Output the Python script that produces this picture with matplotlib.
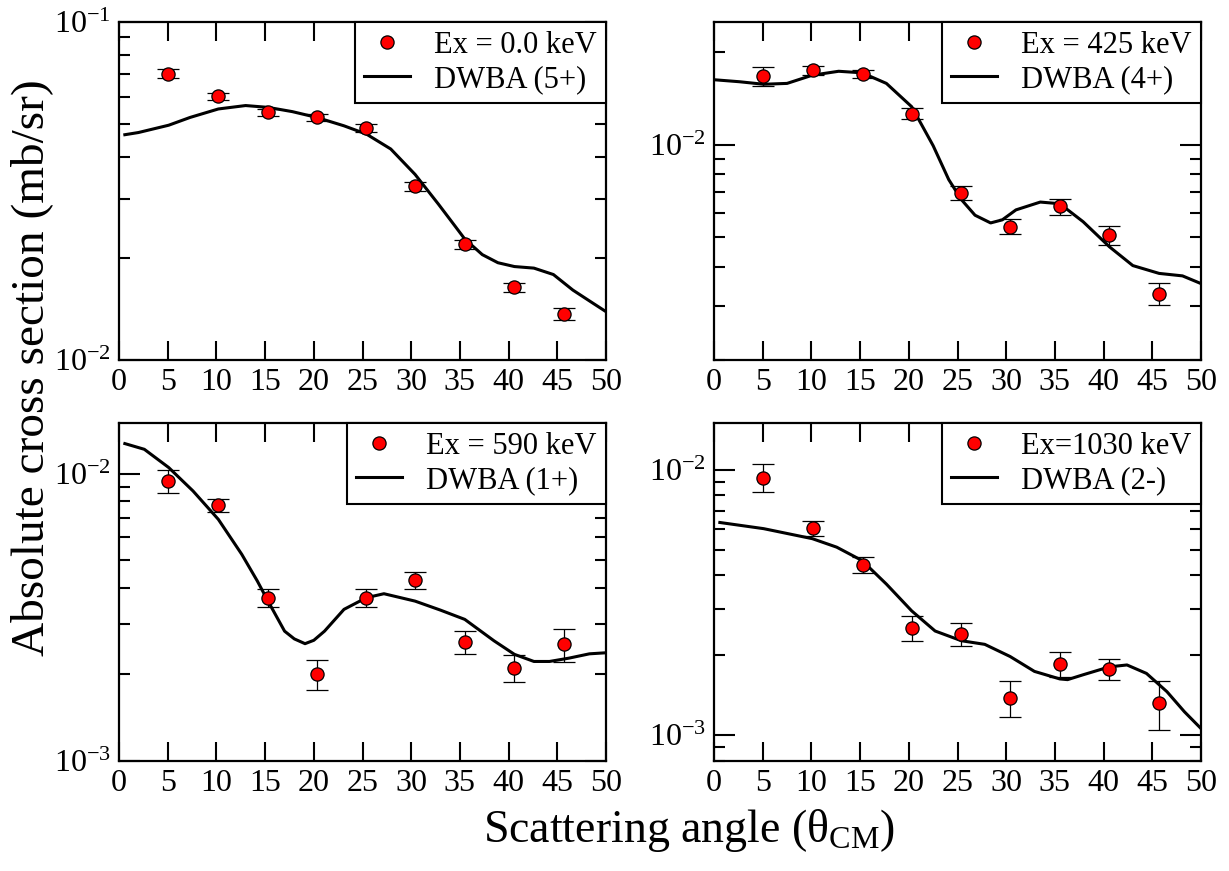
import numpy as np
import matplotlib
matplotlib.use('Agg')
import matplotlib.pyplot as plt
from matplotlib.ticker import LogLocator, FixedLocator, NullFormatter

plt.rcParams['font.family'] = ['Liberation Serif', 'DejaVu Serif']
plt.rcParams['mathtext.fontset'] = 'custom'
plt.rcParams['mathtext.rm'] = 'Liberation Serif'
plt.rcParams['mathtext.it'] = 'Liberation Serif:italic'

# measured angles (deg, CM)
angles = [5.07, 10.15, 15.25, 20.3, 25.4, 30.4, 35.5, 40.6, 45.7]

# Ex = 0.0 keV, DWBA (5+)
xs0 = [0.0703, 0.0602, 0.0540, 0.0522, 0.0486, 0.0327, 0.0220, 0.0164, 0.0137]
er0 = [0.03, 0.025, 0.025, 0.025, 0.03, 0.03, 0.03, 0.03, 0.04]
th0 = [0.6, 2.0, 5.1, 7.3, 10.2, 13.0, 15.3, 17.8, 20.3, 23.1, 25.4, 27.9, 30.4,
       32.8, 34.5, 35.5, 37.3, 38.9, 40.6, 42.6, 44.6, 46.6, 48.7, 50.0]
dw0 = [0.0464, 0.0471, 0.0495, 0.0522, 0.0553, 0.0566, 0.0559, 0.0543, 0.0522,
       0.0493, 0.0466, 0.0421, 0.0354, 0.0289, 0.0249, 0.0228, 0.0205, 0.0194,
       0.0189, 0.0187, 0.0179, 0.0161, 0.0147, 0.0139]

# Ex = 425 keV, DWBA (4+)
xs1 = [0.01665, 0.01742, 0.0170, 0.0126, 0.00697, 0.00542, 0.0063, 0.00508, 0.00328]
er1 = [0.07, 0.035, 0.03, 0.04, 0.05, 0.055, 0.06, 0.07, 0.08]
th1 = [0.0, 2.6, 5.1, 7.5, 10.1, 12.8, 15.2, 17.7, 20.3, 22.5, 24.1, 25.4, 26.8,
       28.4, 29.6, 31.0, 33.5, 35.5, 37.9, 40.6, 43.0, 45.7, 48.1, 50.0]
dw1 = [0.01624, 0.0160, 0.0157, 0.0158, 0.0168, 0.0173, 0.0171, 0.0158, 0.01327,
       0.00992, 0.0077, 0.00663, 0.00590, 0.00557, 0.00570, 0.00614, 0.00651,
       0.00643, 0.00562, 0.00466, 0.00405, 0.00382, 0.00375, 0.00354]

# Ex = 590 keV, DWBA (1+)
xs2 = [0.00943, 0.00776, 0.0037, 0.00201, 0.0037, 0.00425, 0.0026, 0.00211, 0.00255]
er2 = [0.09, 0.05, 0.075, 0.12, 0.075, 0.07, 0.09, 0.11, 0.13]
th2 = [0.6, 2.6, 5.1, 7.6, 10.2, 12.6, 14.2, 15.3, 17.0, 18.0, 19.1, 20.0, 21.1,
       23.1, 25.4, 27.2, 30.4, 33.0, 35.5, 38.5, 40.6, 42.6, 44.2, 46.2, 48.3, 50.0]
dw2 = [0.01272, 0.01215, 0.0105, 0.0087, 0.00693, 0.00524, 0.00423, 0.0036,
       0.00283, 0.00266, 0.00256, 0.00263, 0.00283, 0.00337, 0.0037, 0.00382,
       0.0036, 0.00335, 0.00311, 0.00262, 0.00235, 0.00222, 0.00222, 0.00228,
       0.00236, 0.00238]

# Ex = 1030 keV, DWBA (2-)
xs3 = [0.00935, 0.00604, 0.00438, 0.00254, 0.00241, 0.001386, 0.00186, 0.00178, 0.001327]
er3 = [0.12, 0.065, 0.07, 0.11, 0.10, 0.155, 0.105, 0.09, 0.21]
th3 = [0.6, 5.1, 10.1, 12.6, 15.2, 17.7, 20.3, 22.7, 25.4, 27.8, 30.4, 32.9,
       35.5, 36.3, 37.9, 40.6, 42.4, 44.4, 46.5, 48.3, 50.0]
dw3 = [0.00633, 0.0060, 0.0055, 0.00511, 0.00455, 0.00371, 0.00294, 0.00247,
       0.00227, 0.0022, 0.00198, 0.00174, 0.00163, 0.00162, 0.00169, 0.00181,
       0.00184, 0.00171, 0.00146, 0.001226, 0.00106]

panels = [
    (xs0, er0, th0, dw0, 'Ex = 0.0 keV', 'DWBA (5+)', (0.01, 0.1)),
    (xs1, er1, th1, dw1, 'Ex = 425 keV', 'DWBA (4+)', (0.002, 0.025)),
    (xs2, er2, th2, dw2, 'Ex = 590 keV', 'DWBA (1+)', (0.001, 0.015)),
    (xs3, er3, th3, dw3, 'Ex=1030 keV', 'DWBA (2-)', (0.0008, 0.015)),
]

fig = plt.figure(figsize=(12.29, 8.71), dpi=100)
W, H = 1229.0, 871.0
boxes = [(119, 22), (714, 22), (119, 423), (714, 423)]
pw, ph = 487, 338

for (xs, er, th, dw, lab, dlab, ylim), (l, t) in zip(panels, boxes):
    ax = fig.add_axes([l / W, 1 - (t + ph) / H, pw / W, ph / H])
    xs = np.array(xs)
    yerr = xs * np.array(er)
    ax.errorbar(angles, xs, yerr=yerr, fmt='none', ecolor='black',
                elinewidth=0.9, capsize=8, capthick=0.9, zorder=2)
    ax.plot(th, dw, color='black', lw=2.2, zorder=3, label=dlab)
    ax.plot(angles, xs, 'o', ms=9.5, mfc='red', mec='black', mew=0.9,
            zorder=4, label=lab)
    ax.set_yscale('log')
    ax.set_xlim(0, 50)
    ax.set_ylim(*ylim)
    ax.xaxis.set_major_locator(FixedLocator(np.arange(0, 51, 5)))
    ax.yaxis.set_major_locator(LogLocator(base=10, numticks=10))
    ax.yaxis.set_minor_locator(LogLocator(base=10, subs=np.arange(2, 10), numticks=20))
    ax.yaxis.set_minor_formatter(NullFormatter())
    ax.tick_params(which='both', direction='in', top=True, right=True,
                   labelsize=23, width=1.5, pad=6)
    ax.tick_params(axis='x', which='major', length=14)
    ax.tick_params(axis='y', which='major', length=15)
    ax.tick_params(axis='y', which='minor', length=8)
    for s in ax.spines.values():
        s.set_linewidth(1.6)
    h, lb = ax.get_legend_handles_labels()
    leg = ax.legend(h[::-1], lb[::-1], loc='upper right', borderaxespad=0,
                    fontsize=22, fancybox=False, framealpha=1, edgecolor='black',
                    handlelength=1.5, handletextpad=0.8, labelspacing=0.15,
                    borderpad=0.3)
    leg.get_frame().set_linewidth(1.5)

fig.text(0.026, 0.578, 'Absolute cross section (mb/sr)', rotation=90,
         ha='center', va='center', fontsize=34)
fig.text(0.561, 0.047, r'Scattering angle (θ$_\mathregular{CM}$)',
         ha='center', va='center', fontsize=33)

plt.savefig('out.png', dpi=100)
plt.close(fig)
